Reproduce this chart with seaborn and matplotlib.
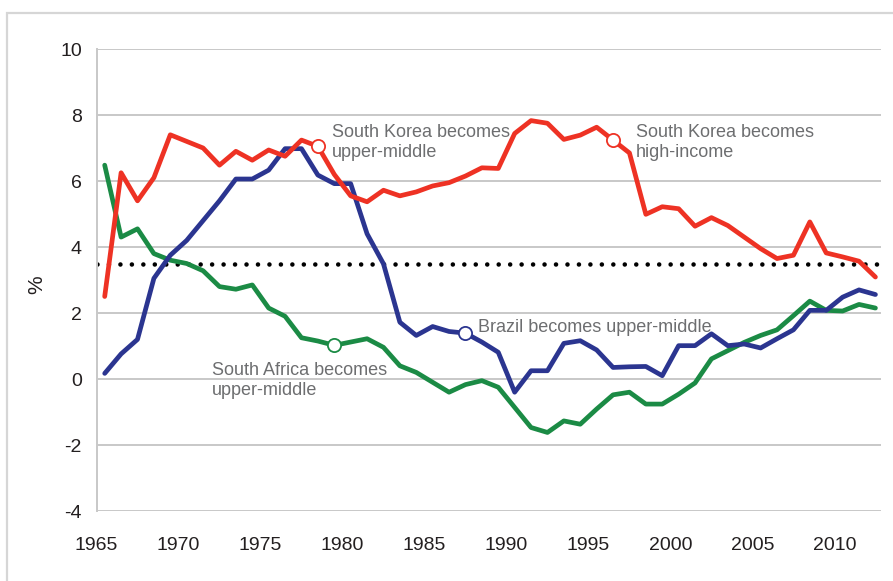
import numpy as np
import pandas as pd
import matplotlib
matplotlib.use("Agg")
import matplotlib.pyplot as plt
from matplotlib.patches import Rectangle
import seaborn as sns

# ---------------- data ----------------
years = list(range(1966, 2014))

south_korea = [2.5, 6.25, 5.4, 6.1, 7.4, 7.2, 7.0, 6.48, 6.9, 6.63,
               6.94, 6.75, 7.24, 7.05, 6.2, 5.55, 5.37, 5.72, 5.55, 5.67,
               5.85, 5.95, 6.15, 6.4, 6.38, 7.44, 7.83, 7.75, 7.26, 7.39,
               7.63, 7.24, 6.85, 4.99, 5.22, 5.16, 4.63, 4.89, 4.65, 4.3,
               3.95, 3.65, 3.75, 4.76, 3.82, 3.7, 3.57, 3.09]

brazil = [0.17, 0.76, 1.2, 3.05, 3.75, 4.2, 4.8, 5.4, 6.06, 6.06,
          6.33, 6.98, 6.98, 6.18, 5.92, 5.92, 4.4, 3.49, 1.72, 1.32,
          1.59, 1.44, 1.39, 1.12, 0.81, -0.4, 0.25, 0.25, 1.08, 1.16,
          0.88, 0.35, 0.37, 0.38, 0.1, 1.01, 1.01, 1.37, 1.01, 1.06,
          0.94, 1.22, 1.49, 2.08, 2.08, 2.48, 2.7, 2.56]

south_africa = [6.48, 4.3, 4.55, 3.8, 3.6, 3.5, 3.28, 2.8, 2.72, 2.85,
                2.15, 1.9, 1.25, 1.15, 1.02, 1.12, 1.22, 0.96, 0.4, 0.2,
                -0.1, -0.4, -0.17, -0.05, -0.25, -0.86, -1.47, -1.62, -1.27, -1.37,
                -0.91, -0.48, -0.4, -0.76, -0.76, -0.46, -0.12, 0.61, 0.86, 1.11,
                1.32, 1.49, 1.92, 2.36, 2.08, 2.06, 2.26, 2.15]

threshold = 3.5

# income-status transitions: (series, year, label)
event_series = ["South Korea", "South Korea", "South Africa", "Brazil"]
event_years = [1979, 1997, 1980, 1988]
event_labels = ["South Korea becomes\nupper-middle",
                "South Korea becomes\nhigh-income",
                "South Africa becomes\nupper-middle",
                "Brazil becomes upper-middle"]

x_ticks = [1965, 1970, 1975, 1980, 1985, 1990, 1995, 2000, 2005, 2010]
x_ticklabels = ["1965", "1970", "1975", "1980", "1985", "1990", "1995", "2000", "2005", "2010"]
y_ticks = [-4, -2, 0, 2, 4, 6, 8, 10]
y_ticklabels = ["-4", "-2", "0", "2", "4", "6", "8", "10"]

# ---------------- style ----------------
sns.set_style("white")
plt.rcParams["font.family"] = ["Liberation Sans", "DejaVu Sans"]
plt.rcParams["axes.unicode_minus"] = False

colors = {"South Korea": "#EE3224", "Brazil": "#2B3590", "South Africa": "#1B8B45"}
grid_col = "#C8C8C8"
text_col = "#6D6E70"

series = {"South Korea": south_korea, "Brazil": brazil, "South Africa": south_africa}
df = pd.concat([pd.DataFrame({"pos": np.array(years) - 0.5, "value": v, "country": k})
                for k, v in series.items()], ignore_index=True)

fig = plt.figure(figsize=(8.93, 5.81), dpi=100)
ax = fig.add_axes([96.5 / 893, 70 / 581, (881 - 96.5) / 893, 462 / 581])

# outer light frame
fig.add_artist(Rectangle((7 / 893, -0.1), 1.2, 1.1 - 13 / 581, transform=fig.transFigure,
                         fill=False, edgecolor="#D6D6D6", linewidth=1.6))

# grid
for yt in y_ticks:
    ax.axhline(yt, color=grid_col, lw=1.4, zorder=0)

# threshold dotted line
ax.axhline(threshold, color="black", lw=3.3, linestyle=(0, (0.001, 2.5)),
           dash_capstyle="round", zorder=1)

# lines
for name in ["South Africa", "Brazil", "South Korea"]:
    sns.lineplot(data=df[df.country == name], x="pos", y="value", color=colors[name],
                 lw=3.4, ax=ax, sort=False, legend=False, zorder=3)

# markers
for s, yr in zip(event_series, event_years):
    val = series[s][years.index(yr)]
    ax.plot(yr - 0.5, val, marker="o", ms=9.5, mfc="white", mec=colors[s], mew=1.3, zorder=5)

# annotation texts (y = baseline of last line)
text_pos = [(1979.36, 6.73), (1997.9, 6.73), (1972.04, -0.48), (1988.26, 1.43)]
for lab, (tx, ty) in zip(event_labels, text_pos):
    ax.text(tx, ty, lab, fontsize=13, color=text_col, ha="left", va="baseline",
            linespacing=1.22, zorder=6)

ax.set_xlim(1965, 2012.84)
ax.set_ylim(-4, 10)
ax.set_xticks(x_ticks)
ax.set_xticklabels(x_ticklabels)
ax.set_yticks(y_ticks)
ax.set_yticklabels(y_ticklabels)
ax.tick_params(axis="x", length=9.5, width=1.2, color=grid_col, pad=9, labelsize=14,
               labelcolor="#231F20")
ax.tick_params(axis="y", length=5.5, width=1.2, color=grid_col, pad=5, labelsize=14,
               labelcolor="#231F20")
ax.set_xlabel("")
ax.set_ylabel("%", fontsize=15, color="#231F20")
ax.yaxis.set_label_coords(-0.064, 0.49)

for sp in ["top", "right", "bottom"]:
    ax.spines[sp].set_visible(False)
ax.spines["left"].set_color(grid_col)
ax.spines["left"].set_linewidth(1.4)

fig.savefig("out.png", dpi=100)
